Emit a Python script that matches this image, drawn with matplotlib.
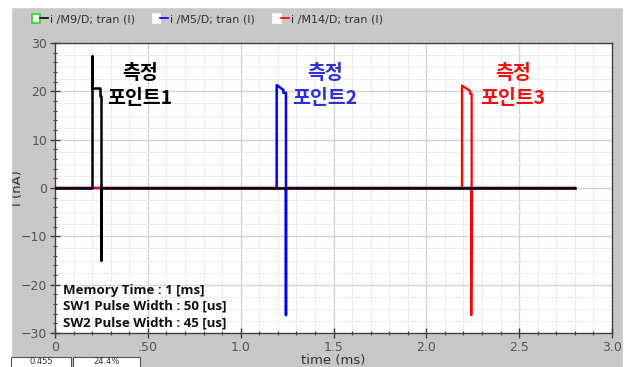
import matplotlib.pyplot as plt
import numpy as np
from matplotlib.lines import Line2D
from matplotlib.patches import Rectangle
from matplotlib.legend_handler import HandlerTuple
from matplotlib.ticker import MultipleLocator, FuncFormatter

plt.rcParams['font.family'] = ['DejaVu Sans']

# traces (time in ms, current in nA)
t_m9 = [0, 0.200, 0.200, 0.200, 0.242, 0.242, 0.247, 0.247, 0.247, 2.8]
i_m9 = [0, 0, 27.3, 20.6, 20.6, 19.0, 19.0, -14.8, 0, 0]

t_m5 = [0, 1.194, 1.194, 1.230, 1.230, 1.244, 1.244, 1.244, 2.8]
i_m5 = [0, 0, 21.3, 20.3, 19.7, 19.7, -26.3, 0, 0]

t_m14 = [0, 2.192, 2.192, 2.235, 2.235, 2.244, 2.244, 2.242, 2.242, 2.244, 2.8]
i_m14 = [0, 0, 21.2, 20.1, 19.5, 19.5, -13.2, -13.2, -26.3, 0, 0]

legend_labels = ['i /M9/D; tran (I)', 'i /M5/D; tran (I)', 'i /M14/D; tran (I)']
point_labels = ['측정\n포인트1', '측정\n포인트2', '측정\n포인트3']
point_x = [0.458, 1.454, 2.466]
point_y = [21.2, 21.2, 21.2]
info_lines = ['Memory Time : 1 [ms]', 'SW1 Pulse Width : 50 [us]', 'SW2 Pulse Width : 45 [us]']
status_texts = ['0.455', '24.4%']

grey = '#c8c8c8'
fig = plt.figure(figsize=(6.29, 3.67), dpi=100, facecolor=grey)

# white margins of the screenshot
fig.patches.append(Rectangle((0, 0), 11/629, 1, transform=fig.transFigure, color='white', zorder=0))
fig.patches.append(Rectangle((623/629, 0), 6/629, 1, transform=fig.transFigure, color='white', zorder=0))
fig.patches.append(Rectangle((0, 1 - 7/367), 1, 7/367, transform=fig.transFigure, color='white', zorder=0))

ax = fig.add_axes([55/629, 1 - 333/367, 557/629, 290/367])
ax.set_facecolor('white')

ax.set_xlim(0, 3.0)
ax.set_ylim(-30, 30)
ax.xaxis.set_major_locator(MultipleLocator(0.5))
ax.xaxis.set_minor_locator(MultipleLocator(0.1))
ax.yaxis.set_major_locator(MultipleLocator(10))
ax.yaxis.set_minor_locator(MultipleLocator(2))

def xfmt(v, pos):
    if abs(v) < 1e-9:
        return '0'
    if abs(v - 0.5) < 1e-9:
        return '.50'
    return f'{v:.1f}'
ax.xaxis.set_major_formatter(FuncFormatter(xfmt))

# grid
for gx in np.arange(0.1, 3.0, 0.1):
    major = abs(gx / 0.5 - round(gx / 0.5)) < 1e-6
    ax.axvline(gx, color='#d4d4d4' if major else '#ececec', lw=1.0 if major else 0.8, zorder=0)
for gy in np.arange(-27.5, 30, 2.5):
    major = abs(gy / 10 - round(gy / 10)) < 1e-6
    ax.axhline(gy, color='#d4d4d4' if major else '#ececec', lw=1.0 if major else 0.8, zorder=0)

ax.plot(t_m5, i_m5, color='#0000ff', lw=1.8, zorder=3)
ax.plot(t_m14, i_m14, color='#ff0000', lw=1.6, zorder=4)
ax.plot(t_m9, i_m9, color='black', lw=1.8, zorder=5)

for s in ax.spines.values():
    s.set_color('#404040')
    s.set_linewidth(1.0)
ax.tick_params(which='major', direction='inout', length=7, width=1.0, color='#404040',
               labelsize=9, labelcolor='#555555', pad=2)
ax.tick_params(which='minor', direction='inout', length=3, width=0.8, color='#404040')
ax.tick_params(top=False, right=False)

ax.set_xlabel('time (ms)', fontsize=9.5, color='#333333', labelpad=0)
ax.set_ylabel('I (nA)', fontsize=9.5, color='#333333')
ax.yaxis.set_label_coords(-0.056, 0.5)

colors_txt = ['black', '#2f2fd6', '#f01010']
for x, y, lab, c in zip(point_x, point_y, point_labels, colors_txt):
    ax.text(x, y, lab, color=c, fontsize=14, fontweight='bold', ha='center', va='center',
            family=['Noto Sans CJK KR', 'DejaVu Sans'], linespacing=1.4, zorder=6)

for k, line in enumerate(info_lines):
    ax.text(0.015, 0.148 - k * 0.056, line, transform=ax.transAxes, fontsize=9.5,
            fontweight='bold', family=['Open Sans', 'DejaVu Sans'], color='#111111',
            ha='left', va='center', zorder=6)

# legend strip
box_edges = ['#22dd22', 'white', 'white']
line_cols = ['black', '#0000ff', '#ff0000']
handles = []
for be, lc in zip(box_edges, line_cols):
    handles.append((Rectangle((0, 0), 1, 1, facecolor='white', edgecolor=be, lw=1.2),
                    Line2D([], [], color=lc, lw=1.2)))
fig.legend(handles, legend_labels, loc='upper left', bbox_to_anchor=(22/629, 1 - 4/367),
           ncol=3, frameon=False, fontsize=8, handlelength=1.4, handleheight=0.9,
           handletextpad=0.2, columnspacing=1.6, labelcolor='#333333',
           handler_map={tuple: HandlerTuple(ndivide=None, pad=0)})

# status boxes at the bottom edge
for (x0, w), txt in zip([(11, 60), (73, 67)], status_texts):
    fig.patches.append(Rectangle((x0/629, -0.02), w/629, 10/367 + 0.02, transform=fig.transFigure,
                                 facecolor='white', edgecolor='#555555', lw=0.8))
    fig.text((x0 + w/2)/629, 1/367, txt, fontsize=6, color='#333333', ha='center', va='bottom')

fig.savefig('out.png', dpi=100, facecolor=grey)
